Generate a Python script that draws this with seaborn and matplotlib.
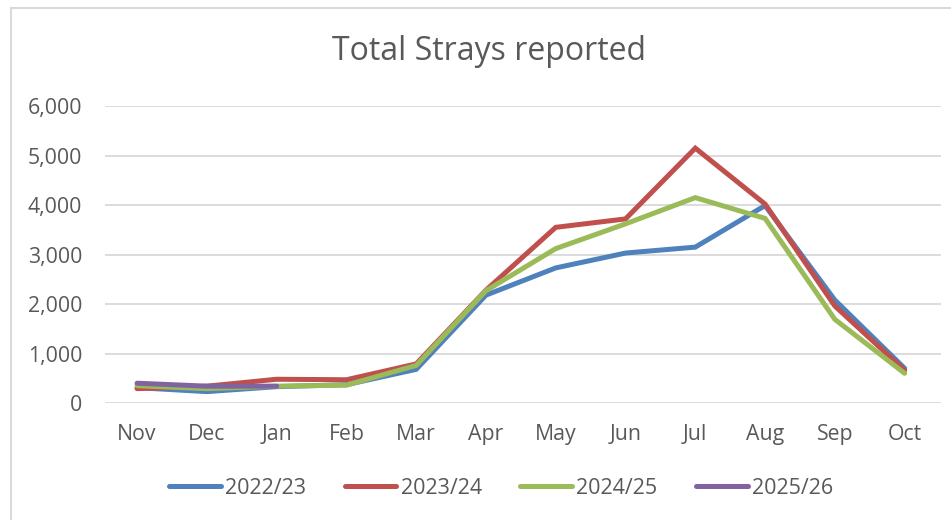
import matplotlib.pyplot as plt
import matplotlib.patches as mpatches
import seaborn as sns
import pandas as pd

# values
months = ['Nov', 'Dec', 'Jan', 'Feb', 'Mar', 'Apr', 'May', 'Jun', 'Jul', 'Aug', 'Sep', 'Oct']
s2022 = [310, 230, 330, 370, 680, 2180, 2730, 3030, 3150, 3990, 2080, 700]
s2023 = [290, 340, 480, 470, 790, 2280, 3550, 3720, 5150, 4020, 1960, 660]
s2024 = [350, 290, 340, 360, 760, 2270, 3120, 3620, 4150, 3730, 1690, 600]
s2025 = [400, 340, 340]

seasons = ['2022/23', '2023/24', '2024/25', '2025/26']
colors = ['#4f81bd', '#c0504d', '#9bbb59', '#8064a2']

rows = []
for season, vals in zip(seasons, [s2022, s2023, s2024, s2025]):
    for i, v in enumerate(vals):
        rows.append({'month': i, 'strays': v, 'season': season})
df = pd.DataFrame(rows)

sns.set_style('white')
plt.rcParams['font.family'] = ['Open Sans', 'DejaVu Sans']
txt = '#595959'

fig = plt.figure(figsize=(9.51, 5.20), dpi=100)
ax = fig.add_axes([0.1104, 0.225, 0.879, 0.571])

sns.lineplot(data=df, x='month', y='strays', hue='season', hue_order=seasons,
             palette=colors, linewidth=3.6, ax=ax, legend=False,
             solid_capstyle='round', solid_joinstyle='miter')

ax.set_xlim(-0.46, 11.52)
ax.set_ylim(0, 6000)
ax.set_yticks(range(0, 6001, 1000))
ax.set_yticklabels([f'{v:,}' for v in range(0, 6001, 1000)])
ax.set_xticks(range(len(months)))
ax.set_xticklabels(months)
ax.tick_params(axis='both', length=0, labelsize=15.3, labelcolor=txt)
ax.tick_params(axis='y', pad=16.5)
ax.tick_params(axis='x', pad=15)
ax.grid(axis='y', color='#d9d9d9', linewidth=1.3)
ax.set_axisbelow(True)
for sp in ax.spines.values():
    sp.set_visible(False)
ax.set_xlabel('')
ax.set_ylabel('')

fig.text(0.514, 0.9, 'Total Strays reported', ha='center', va='center',
         fontsize=23, color=txt)

handles = [plt.Line2D([], [], color=c, linewidth=3.6, solid_capstyle='round') for c in colors]
fig.legend(handles, seasons, loc='center', bbox_to_anchor=(0.527, 0.0615), ncol=4,
           frameon=False, fontsize=15.5, labelcolor=txt, handlelength=2.4,
           handletextpad=0.2, columnspacing=1.8)

fig.patches.append(mpatches.Rectangle((11 / 951, -0.1), 1.2, 1 - 8 / 520 + 0.1,
                                      transform=fig.transFigure, fill=False,
                                      edgecolor='#d9d9d9', linewidth=1.5))

fig.savefig('out.png', dpi=100)
